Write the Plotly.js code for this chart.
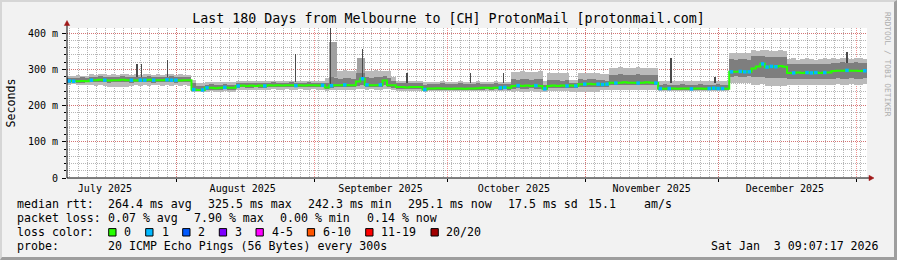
<!DOCTYPE html>
<html><head><meta charset="utf-8">
<script src="https://cdn.plot.ly/plotly-3.0.1.min.js"></script>
<style>
html,body{margin:0;padding:0;background:#f2f2f2;}
#wrap{position:relative;width:897px;height:260px;overflow:hidden;}
#chart{width:897px;height:260px;}
#frame{position:absolute;left:0;top:0;width:897px;height:260px;box-sizing:border-box;border-top:2px solid #d6d6d6;border-left:2px solid #d6d6d6;border-bottom:3px solid #9e9e9e;border-right:3px solid #9e9e9e;pointer-events:none;}
</style></head><body>
<div id="wrap"><div id="chart"></div><div id="frame"></div></div>
<script>
// ---- time frame (graph in local time) ----
const START = Date.UTC(2025, 6, 7, 9, 7, 17);
const END = Date.UTC(2026, 0, 3, 9, 7, 17);
const DAY = 86400000;

// ---- daily median RTT (ms), 180 days ----
const median = [
268,267,267,268,267,
270,270,271,270,269,270,270,271,270,270,269,270,270,271,270,270,270,271,270,270,269,270,270,
244,243,243,
249,249,248,249,250,249,249,
254,255,254,255,254,255,254,
256,255,256,255,256,256,255,256,255,256,256,255,256,
250,
255,256,256,257,256,256,
266,274,
257,256,256,257,
269,
256,256,
251,251,250,251,251,251,
244,
247,247,248,247,247,246,247,247,246,247,247,248,
249,249,248,249,249,250,249,
254,255,254,255,254,255,254,
246,
254,255,254,255,254,255,254,
259,259,260,259,259,258,259,
263,262,263,264,263,263,262,263,264,263,262,
247,246,247,247,246,247,247,246,247,247,246,247,248,247,247,246,
293,293,294,293,293,
302,308,315,
306,308,307,309,307,
290,
290,291,290,291,290,291,290,291,291,
295,296,296,297,296,296,295,296
];

// ---- smoke: outer band (min..max of pings) ----
const smokeLo = [
258,259,258,257,258,
256,255,256,255,251,252,251,252,251,255,256,255,256,255,256,256,255,256,255,256,255,256,255,
236,
236,237,
238,239,238,238,239,238,238,
242,243,242,242,243,242,242,
244,245,244,244,245,244,244,245,244,244,245,244,244,
240,
242,
242,243,242,242,243,
245,245,
244,245,244,244,
246,
245,
243,
240,241,240,240,241,240,
236,
240,241,240,240,241,240,240,241,240,240,241,240,240,241,240,240,241,240,240,
238,239,238,238,239,238,238,
236,
240,241,240,240,241,
238,238,
236,237,236,236,237,
243,243,
242,243,242,242,243,242,242,243,242,242,243,
240,241,240,240,241,240,240,241,240,240,241,240,240,241,240,240,
262,263,262,262,263,
258,258,259,
254,255,254,254,255,
257,258,257,257,258,257,257,258,257,257,
258,259,258,258,259,258,258,259
];
const smokeHi = [
282,281,283,282,281,
286,285,287,286,284,286,285,287,286,285,286,284,286,287,285,286,285,286,287,285,286,285,284,
270,
262,263,
265,266,264,265,266,265,264,
268,267,268,269,268,267,268,
268,269,268,267,268,269,268,267,268,269,268,267,268,
276,
300,
296,295,297,296,295,
300,301,
296,295,297,296,
296,
294,
280,
268,267,268,269,268,267,
266,
266,265,266,267,266,265,266,267,266,265,266,267,266,265,266,267,266,265,266,
293,292,294,293,292,293,294,
268,
290,291,290,289,290,
270,271,
290,289,291,290,289,
287,286,
304,303,305,304,303,304,305,304,303,304,304,
268,269,268,267,268,269,268,267,268,269,268,267,268,269,268,267,
345,344,346,345,344,
352,351,352,
352,350,351,352,350,
328,330,327,329,330,328,327,329,330,328,
330,329,331,330,329,331,330,329
];
// ---- smoke: inner (dense) band ----
const coreLo = [
263,264,263,263,264,
264,265,264,264,263,264,265,264,264,263,264,265,264,264,263,264,265,264,264,263,264,265,264,
240,
240,240,
244,244,243,244,245,244,244,
249,250,249,249,250,249,249,
250,251,250,250,251,250,250,251,250,250,251,250,250,
245,
248,
250,251,250,250,251,
255,256,
250,251,250,250,
256,
250,
248,
246,246,245,246,246,245,
240,
244,244,243,244,244,243,244,244,243,244,244,243,244,245,244,245,244,245,244,
247,248,247,247,248,247,247,
242,
248,249,248,248,249,
248,248,
250,251,250,250,251,
252,252,
256,257,256,256,257,256,256,257,256,256,257,
243,244,243,243,244,243,243,244,243,243,244,243,243,244,243,243,
280,281,280,280,281,
278,278,279,
275,276,275,275,276,
272,273,272,272,273,272,272,273,272,272,
274,275,274,274,275,274,274,275
];
const coreHi = [
277,276,277,278,277,
280,279,281,280,278,280,279,281,280,279,280,278,280,281,279,280,279,280,281,279,280,279,278,
262,
254,255,
258,259,257,258,259,258,257,
262,261,262,263,262,261,262,
263,264,263,262,263,264,263,262,263,264,263,262,263,
262,
280,
275,274,276,275,274,
290,291,
278,277,279,278,
282,
275,
268,
262,261,262,263,262,261,
258,
260,259,260,261,260,259,260,261,260,259,260,261,260,259,260,261,260,259,260,
272,271,273,272,271,272,273,
258,
270,271,270,269,270,
262,263,
272,271,273,272,271,
270,269,
285,284,286,285,284,285,286,285,284,285,285,
258,259,258,257,258,259,258,257,258,259,258,257,258,259,258,257,
328,327,329,328,327,
338,337,338,
335,333,334,335,333,
315,316,314,315,316,315,314,315,316,315,
318,317,319,318,317,319,318,317
];

// ---- isolated spikes (day offset from start, low, high in ms) ----
const spikeDays = [15.75, 16.7, 22.7, 51.5, 59.2, 66.4, 76.5, 90.7, 98.3, 135.9, 145.8, 175.5];
const spikeLo   = [280, 280, 280, 265, 256, 270, 262, 262, 262, 262, 262, 318];
const spikeHi   = [316, 314, 327, 341, 414, 355, 290, 289, 290, 330, 280, 348];
const plumeDays = [59.8, 66.2];
const plumeLo   = [280, 280];
const plumeHi   = [375, 330];

// ---- days where 1 of 20 pings was lost ----
const loss1Days = [0,1,5,8,14,16,17,19,22,23,24,28,30,31,35,38,44,51,57,59,62,66,67,70,80,97,98,101,105,107,112,114,116,119,120,121,123,128,132,133,135,140,144,145,146,147,149,151,152,153,156,157,158,159,163,166,167,168,170,175,179];

// ---- axes ----
const monthStarts = ['2025-08-01','2025-09-01','2025-10-01','2025-11-01','2025-12-01','2026-01-01'];
const monthLabelDates = ['2025-07-15 22:00','2025-08-15 22:00','2025-09-15 22:00','2025-10-15 22:00','2025-11-15 22:00','2025-12-15 22:00'];
const monthLabels = ['July 2025','August 2025','September 2025','October 2025','November 2025','December 2025'];
const yTickVals = [0, 100, 200, 300, 400];
const yTickText = ['0', '100 m', '200 m', '300 m', '400 m'];

// ---- legend content ----
const lossLabels = ['0','1','2','3','4-5','6-10','11-19','20/20'];
const lossColors = ['#26ff00','#00b8ff','#0059ff','#7e00ff','#ff00ff','#ff5500','#ff0000','#a10000'];
const rttStats = ['264.4 ms avg','325.5 ms max','242.3 ms min','295.1 ms now','17.5 ms sd','15.1','am/s'];
const lossStats = ['0.07 % avg','7.90 % max','0.00 % min','0.14 % now'];
const probeText = '20 ICMP Echo Pings (56 Bytes) every 300s';
const stampText = 'Sat Jan\u00a0\u00a03 09:07:17 2026';
const titleText = 'Last 180 Days from Melbourne to [CH] ProtonMail [protonmail.com]';

// ---- layout positions (px) ----
const rttX = [107.3, 207.3, 307.3, 406.7, 507.3, 587.3, 642.7];
const lossX = [107.3, 192.7, 279.3, 365.7];
const boxX = [108.7, 145.7, 182.7, 219.3, 256, 307.3, 365.7, 431];
const boxTextX = [123.3, 160.7, 197.3, 234, 270.7, 321.7, 380, 444.5];

const L = 67, T = 28, W = 800, H = 150;
const px = p => (p - L) / W;
const py = p => (T + H - p) / H;
const MONO = 'DejaVu Sans Mono';
const MINOR_GRID = 'rgba(110,110,110,0.5)';
const MAJOR_GRID = 'rgba(230,70,70,0.6)';

const centers = median.map((_, i) => START + (i + 0.5) * DAY);
const dayX = d => START + d * DAY;

const traces = [
  { type: 'scatter', mode: 'lines', x: [START, END], y: [null, null], xaxis: 'x2', yaxis: 'y', hoverinfo: 'skip', showlegend: false },
  { type: 'scatter', mode: 'lines', x: [START, END], y: [null, null], xaxis: 'x3', yaxis: 'y', hoverinfo: 'skip', showlegend: false },
  { type: 'scatter', mode: 'lines', x: [START, END], y: [null, null], xaxis: 'x', yaxis: 'y2', hoverinfo: 'skip', showlegend: false },
  { type: 'bar', x: centers, base: smokeLo, y: smokeHi.map((h, i) => h - smokeLo[i]), width: DAY,
    marker: { color: '#bababa', line: { width: 0 }, opacity: 1 }, hoverinfo: 'skip', showlegend: false },
  { type: 'bar', x: plumeDays.map(dayX), base: plumeLo, y: plumeHi.map((h, i) => h - plumeLo[i]), width: 1.8 * DAY,
    marker: { color: '#a0a0a0', line: { width: 0 }, opacity: 1 }, hoverinfo: 'skip', showlegend: false },
  { type: 'bar', x: centers, base: coreLo, y: coreHi.map((h, i) => h - coreLo[i]), width: DAY,
    marker: { color: '#7e7e7e', line: { width: 0 }, opacity: 1 }, hoverinfo: 'skip', showlegend: false },
  { type: 'bar', x: spikeDays.map(dayX), base: spikeLo, y: spikeHi.map((h, i) => h - spikeLo[i]), width: 0.25 * DAY,
    marker: { color: '#4a4a4a', line: { width: 0 }, opacity: 1 }, hoverinfo: 'skip', showlegend: false },
  { type: 'scatter', mode: 'lines', x: centers, y: median, line: { color: '#26ff00', width: 2, shape: 'hvh' },
    hoverinfo: 'skip', showlegend: false },
  { type: 'scatter', mode: 'markers', x: loss1Days.map(d => centers[d]), y: loss1Days.map(d => median[d]),
    marker: { color: '#00b8ff', size: 3.5, symbol: 'square', line: { width: 0 } }, hoverinfo: 'skip', showlegend: false }
];

const annotations = [];
function txt(text, x, y, size, opts) {
  annotations.push(Object.assign({ text: text, xref: 'paper', yref: 'paper', x: px(x - 1), y: py(y),
    xanchor: 'left', yanchor: 'middle', showarrow: false, font: { family: MONO, size: size, color: '#000' } }, opts || {}));
}
const FS = 11.6;
txt('median rtt:', 16, 204.3, FS);
rttStats.forEach((s, i) => txt(s, rttX[i], 204.3, FS));
txt('packet loss:', 16, 218.3, FS);
lossStats.forEach((s, i) => txt(s, lossX[i], 218.3, FS));
txt('loss color:', 16, 232.3, FS);
lossLabels.forEach((s, i) => txt(s, boxTextX[i], 232.3, FS));
txt('probe:', 16, 246.2, FS);
txt(probeText, 107.3, 246.2, FS);
annotations.push({ text: stampText, xref: 'paper', yref: 'paper', x: px(881), y: py(246.2), xanchor: 'right', yanchor: 'middle',
  showarrow: false, font: { family: MONO, size: FS, color: '#000' } });
annotations.push({ text: 'RRDTOOL / TOBI OETIKER', xref: 'paper', yref: 'paper', x: px(888), y: py(64), xanchor: 'center', yanchor: 'middle',
  textangle: 90, showarrow: false, font: { family: MONO, size: 7.9, color: '#adadad' } });

const shapes = [];
lossColors.forEach((c, i) => shapes.push({ type: 'rect', xref: 'paper', yref: 'paper',
  x0: px(boxX[i]), x1: px(boxX[i] + 7.3), y0: py(236), y1: py(228.6), fillcolor: c, line: { color: '#000', width: 1 } }));
// axis arrows
shapes.push({ type: 'line', xref: 'paper', yref: 'paper', x0: px(67), x1: px(67), y0: py(178), y1: py(25), line: { color: '#000', width: 1 } });
shapes.push({ type: 'path', xref: 'paper', yref: 'paper', fillcolor: '#a01818', line: { color: '#a01818', width: 0.5 },
  path: `M ${px(64.3)} ${py(25.5)} L ${px(69.7)} ${py(25.5)} L ${px(67)} ${py(20.5)} Z` });
shapes.push({ type: 'line', xref: 'paper', yref: 'paper', x0: px(67), x1: px(870), y0: py(178), y1: py(178), line: { color: '#000', width: 1 } });
shapes.push({ type: 'path', xref: 'paper', yref: 'paper', fillcolor: '#a01818', line: { color: '#a01818', width: 0.5 },
  path: `M ${px(869)} ${py(175.3)} L ${px(869)} ${py(180.7)} L ${px(874)} ${py(178)} Z` });

const layout = {
  width: 897, height: 260,
  margin: { l: L, r: 897 - L - W, t: T, b: 260 - T - H, pad: 0 },
  paper_bgcolor: '#f2f2f2', plot_bgcolor: '#ffffff',
  barmode: 'overlay', bargap: 0,
  title: { text: titleText, xref: 'container', yref: 'container', x: 0.5, y: 1 - 18 / 260, xanchor: 'center', yanchor: 'middle',
    font: { family: MONO, size: 13.3, color: '#000' } },
  // 2-day minor grid (main x axis)
  xaxis: { type: 'date', range: [START, END], tickmode: 'linear', tick0: '2025-08-01', dtick: 2 * DAY,
    showticklabels: false, showgrid: true, gridcolor: MINOR_GRID, griddash: '1px,1px', gridwidth: 1,
    ticks: '', zeroline: false, showline: false, fixedrange: true },
  // month-start major grid
  xaxis2: { type: 'date', overlaying: 'x', anchor: 'y', side: 'bottom', range: [START, END], tickmode: 'array', tickvals: monthStarts,
    showticklabels: false, showgrid: true, gridcolor: MAJOR_GRID, griddash: '1px,1px', gridwidth: 1,
    ticks: 'outside', ticklen: 3, tickcolor: '#000', zeroline: false, showline: false, fixedrange: true },
  // month labels
  xaxis3: { type: 'date', overlaying: 'x', anchor: 'y', side: 'bottom', range: [START, END], tickmode: 'array',
    tickvals: monthLabelDates, ticktext: monthLabels, showgrid: false, zeroline: false, showline: false, ticks: '',
    ticklabelstandoff: 3, tickfont: { family: MONO, size: 10, color: '#000' }, fixedrange: true },
  // 20 ms minor grid (main y axis)
  yaxis: { range: [0, 414], tickmode: 'linear', tick0: 0, dtick: 20,
    showticklabels: false, showgrid: true, gridcolor: MINOR_GRID, griddash: '1px,1px', gridwidth: 1,
    ticks: 'outside', ticklen: 2, tickcolor: '#000', zeroline: false, showline: false, fixedrange: true },
  // labelled 100 ms major grid
  yaxis2: { overlaying: 'y', anchor: 'x', side: 'left', range: [0, 414], tickmode: 'array', tickvals: yTickVals, ticktext: yTickText,
    showgrid: true, gridcolor: MAJOR_GRID, griddash: '1px,1px', zeroline: false, showline: false,
    ticks: 'outside', ticklen: 4, tickcolor: '#000', ticklabelstandoff: 2,
    tickfont: { family: MONO, size: 10, color: '#000' },
    title: { text: 'Seconds', standoff: 9, font: { family: MONO, size: 11.6, color: '#000' } }, fixedrange: true },
  annotations: annotations,
  shapes: shapes,
  showlegend: false
};

Plotly.newPlot('chart', traces, layout, { staticPlot: true, displayModeBar: false });
</script></body></html>
